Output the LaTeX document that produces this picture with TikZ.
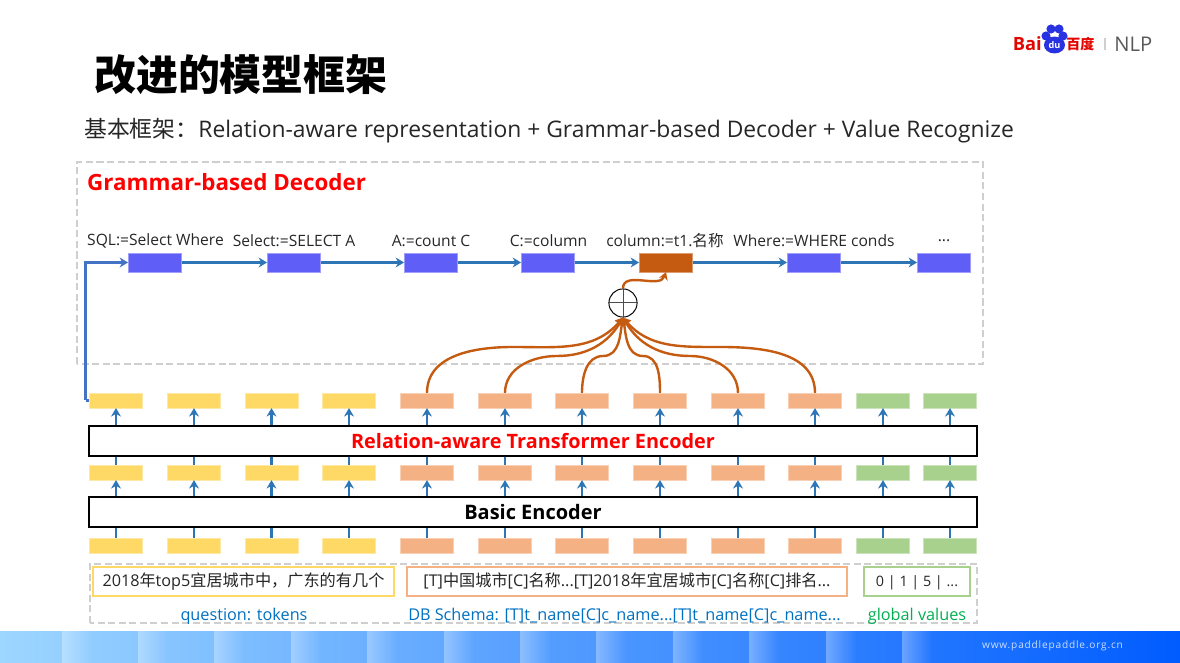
\documentclass[tikz,border=0pt]{standalone}
\usepackage{fontspec}
\usepackage{tikz}
\usetikzlibrary{arrows.meta,shapes.geometric}
\setmainfont{Open Sans}
\newfontfamily\cjk{Noto Sans CJK SC}
\newfontfamily\urlfont[LetterSpace=8]{Open Sans}
\definecolor{tokyellow}{HTML}{FFD966}
\definecolor{tokorange}{HTML}{F4B183}
\definecolor{tokgreen}{HTML}{A9D18E}
\definecolor{decblue}{HTML}{5F5FF8}
\definecolor{pick}{HTML}{C55A11}
\definecolor{flow}{HTML}{2E75B6}
\definecolor{elbowblue}{HTML}{4472C4}
\definecolor{dashgray}{HTML}{CFCFCF}
\definecolor{footL}{HTML}{9DD6FF}
\definecolor{footR}{HTML}{005CFF}
\definecolor{paw}{HTML}{2932E1}
\definecolor{logored}{HTML}{E10601}
\definecolor{txt}{HTML}{262626}
\definecolor{srcblue}{HTML}{0070C0}
\definecolor{srcgreen}{HTML}{00B050}
\begin{document}
\begin{tikzpicture}[x=.025cm,y=.025cm,line width=.35pt,
  tok/.style={fill=#1,draw=#1!60!white,line width=.4pt,minimum width=1.33cm,minimum height=.365cm,inner sep=0pt},
  decbox/.style={fill=#1,draw=#1!60!white,line width=.4pt,minimum width=1.33cm,minimum height=.465cm,inner sep=0pt},
  enc/.style={draw=black,fill=white,line width=1.5pt,minimum width=22.18cm,inner sep=0pt},
  flowline/.style={draw=flow,line width=1.8pt,-{Stealth[length=6pt,width=7pt]}},
  pickline/.style={draw=pick,line width=1.7pt,-{Stealth[length=5.5pt,width=6.5pt]}},
  gbox/.style={draw=dashgray,line width=1.1pt,dash pattern=on 5pt off 2.5pt},
  inbox/.style={draw=#1,fill=white,line width=1.1pt,minimum height=.725cm,inner sep=0pt,text height=7.5pt,text depth=0pt,text=txt,font=\fontsize{11.5}{13}\selectfont},
  rulelab/.style={text=txt,inner sep=0pt,font=\fontsize{11.1}{13}\selectfont},
  srclab/.style={inner sep=0pt,font=\fontsize{11.55}{13}\selectfont}]
\useasboundingbox (0,0) rectangle (1180,663);
\shade[left color=footL,right color=footR] (0,0) rectangle (1180,31);
\foreach \sx in {62,138,214,291,367,444,520,596,673,749,826,902}{
  \pgfmathsetmacro\pa{100-\sx/11.8}
  \pgfmathsetmacro\pb{100-(\sx+30)/11.8}
  \colorlet{segA}{footL!\pa!footR}
  \colorlet{segB}{footL!\pb!footR}
  \shade[left color=segA!68!white,right color=segB] (\sx,0) rectangle (\sx+30,31);
}
\node[inner sep=0pt,text=white!80!footR,font=\urlfont\fontsize{7.2}{8}\selectfont] (url) at (1052.5,17) {www.paddlepaddle.org.cn};

\node[anchor=west,inner sep=0pt,font=\cjk\bfseries\fontsize{29.8}{32}\selectfont] (title) at (94,588) {改进的模型框架};
\node[anchor=west,inner sep=0pt,text=txt,font=\fontsize{16.25}{18}\selectfont] (subtitle) at (84,532) {{\cjk 基本框架：}Relation-aware representation + Grammar-based Decoder + Value Recognize};

\node[circle,fill=paw,inner sep=0pt,minimum size=6.5pt] (toe1) at (1046,627) {};
\node[circle,fill=paw,inner sep=0pt,minimum size=6.5pt] (toe2) at (1051,634) {};
\node[circle,fill=paw,inner sep=0pt,minimum size=6.5pt] (toe3) at (1059,634) {};
\node[circle,fill=paw,inner sep=0pt,minimum size=6.5pt] (toe4) at (1063,627) {};
\node[ellipse,fill=paw,inner sep=0pt,minimum width=15pt,minimum height=12pt,text=white,font=\bfseries\fontsize{6.5}{7}\selectfont] (palm) at (1054.5,618) {du};
\node[anchor=east,inner sep=0pt,text=logored,font=\bfseries\fontsize{13}{14}\selectfont] (bai) at (1042,619) {Bai};
\node[anchor=west,inner sep=0pt,text=logored,font=\cjk\bfseries\fontsize{10}{12}\selectfont] (baidu) at (1066,619) {百度};
\node[draw=none,fill=dashgray,minimum width=1pt,minimum height=8pt,inner sep=0pt] (bar) at (1105,619) {};
\node[anchor=west,inner sep=0pt,text=black!65,font=\fontsize{14.4}{16}\selectfont] (nlp) at (1114,619) {NLP};

\draw[gbox] (77,299) rectangle (983,501);
\draw[gbox] (90,40) rectangle (977,99);
\node[anchor=west,inner sep=0pt,text=red,font=\bfseries\fontsize{15.9}{18}\selectfont] (gramlab) at (87,481) {Grammar-based Decoder};

\foreach \x/\lab [count=\i] in {155.5/SQL:=Select Where,294/Select:=SELECT A,431/A:=count C,548.5/C:=column,665/column:={t1.\cjk 名称},814/Where:=WHERE conds,944/{...}}
  \node[rulelab] (lab\i) at (\x,422.5) {\lab};

\foreach \x/\c [count=\i] in {155/decblue,294/decblue,431/decblue,548/decblue,666/pick,814/decblue,944/decblue}
  \node[decbox=\c] (dec\i) at (\x,400.5) {};
\foreach \i [count=\j from 2] in {1,...,6}
  \draw[flowline] (dec\i) -- (dec\j);

\foreach \x/\c [count=\i] in {116/tokyellow,194/tokyellow,271.5/tokyellow,349/tokyellow,427/tokorange,505/tokorange,582/tokorange,660/tokorange,738/tokorange,815/tokorange,883/tokgreen,950/tokgreen}{
  \node[tok=\c] (top\i) at (\x,262.5) {};
  \node[tok=\c] (mid\i) at (\x,190.5) {};
  \node[tok=\c] (low\i) at (\x,117.5) {};
  \draw[flowline] (low\i) -- (mid\i);
  \draw[flowline] (mid\i) -- (top\i);
}
\node[enc,minimum height=.74cm,text=red,font=\bfseries\fontsize{14.1}{16}\selectfont] (relenc) at (533,222) {Relation-aware Transformer Encoder};
\node[enc,minimum height=.74cm,font=\bfseries\fontsize{14.2}{16}\selectfont] (basicenc) at (533,151) {Basic Encoder};

\coordinate (elbow) at (85.5,262.5);
\draw[draw=elbowblue,line width=1.6pt] (top1.west) -- (elbow);
\draw[flowline,draw=elbowblue,line width=1.6pt] (elbow) |- (dec1.west);

\node[circle,draw=black,fill=white,line width=.7pt,minimum size=20pt,inner sep=0pt] (oplus) at (623,360) {};
\draw[black!70,line width=.7pt] (oplus.north) -- (oplus.south) (oplus.west) -- (oplus.east);

\foreach \i/\mx/\my/\ang in {5/513/316/-130,6/557/307/-120,7/603/307/-100,8/643/307/-80,9/690/307/-60,10/720/316/-50}{
  \ifnum\i<8
    \draw[pickline] (top\i.north) to[out=90,in=180] (\mx,\my) to[out=0,in=\ang] (oplus.south);
  \else
    \draw[pickline] (top\i.north) to[out=90,in=0] (\mx,\my) to[out=180,in=\ang] (oplus.south);
  \fi
}
\draw[pickline] (oplus.north) to[out=90,in=-110] (dec5.south);

\node[inbox=tokyellow,minimum width=7.525cm] (qbox) at (243.5,81.5) {2018{\cjk 年}top5{\cjk 宜居城市中，广东的有几个}};
\node[inbox=tokorange,minimum width=11cm] (schemabox) at (627,81.5) {[T]{\cjk 中国城市}[C]{\cjk 名称}...[T]2018{\cjk 年宜居城市}[C]{\cjk 名称}[C]{\cjk 排名}...};
\node[inbox=tokgreen,minimum width=2.65cm,font=\fontsize{10.2}{12}\selectfont] (valbox) at (917,81.5) {0 | 1 | 5 | ...};

\node[srclab,text=srcblue] (qlab) at (244,47) {question: tokens};
\node[srclab,text=srcblue] (schemalab) at (624.5,47) {DB Schema: [T]t\_name[C]c\_name...[T]t\_name[C]c\_name...};
\node[srclab,text=srcgreen] (vallab) at (917,47) {global values};
\end{tikzpicture}
\end{document}
